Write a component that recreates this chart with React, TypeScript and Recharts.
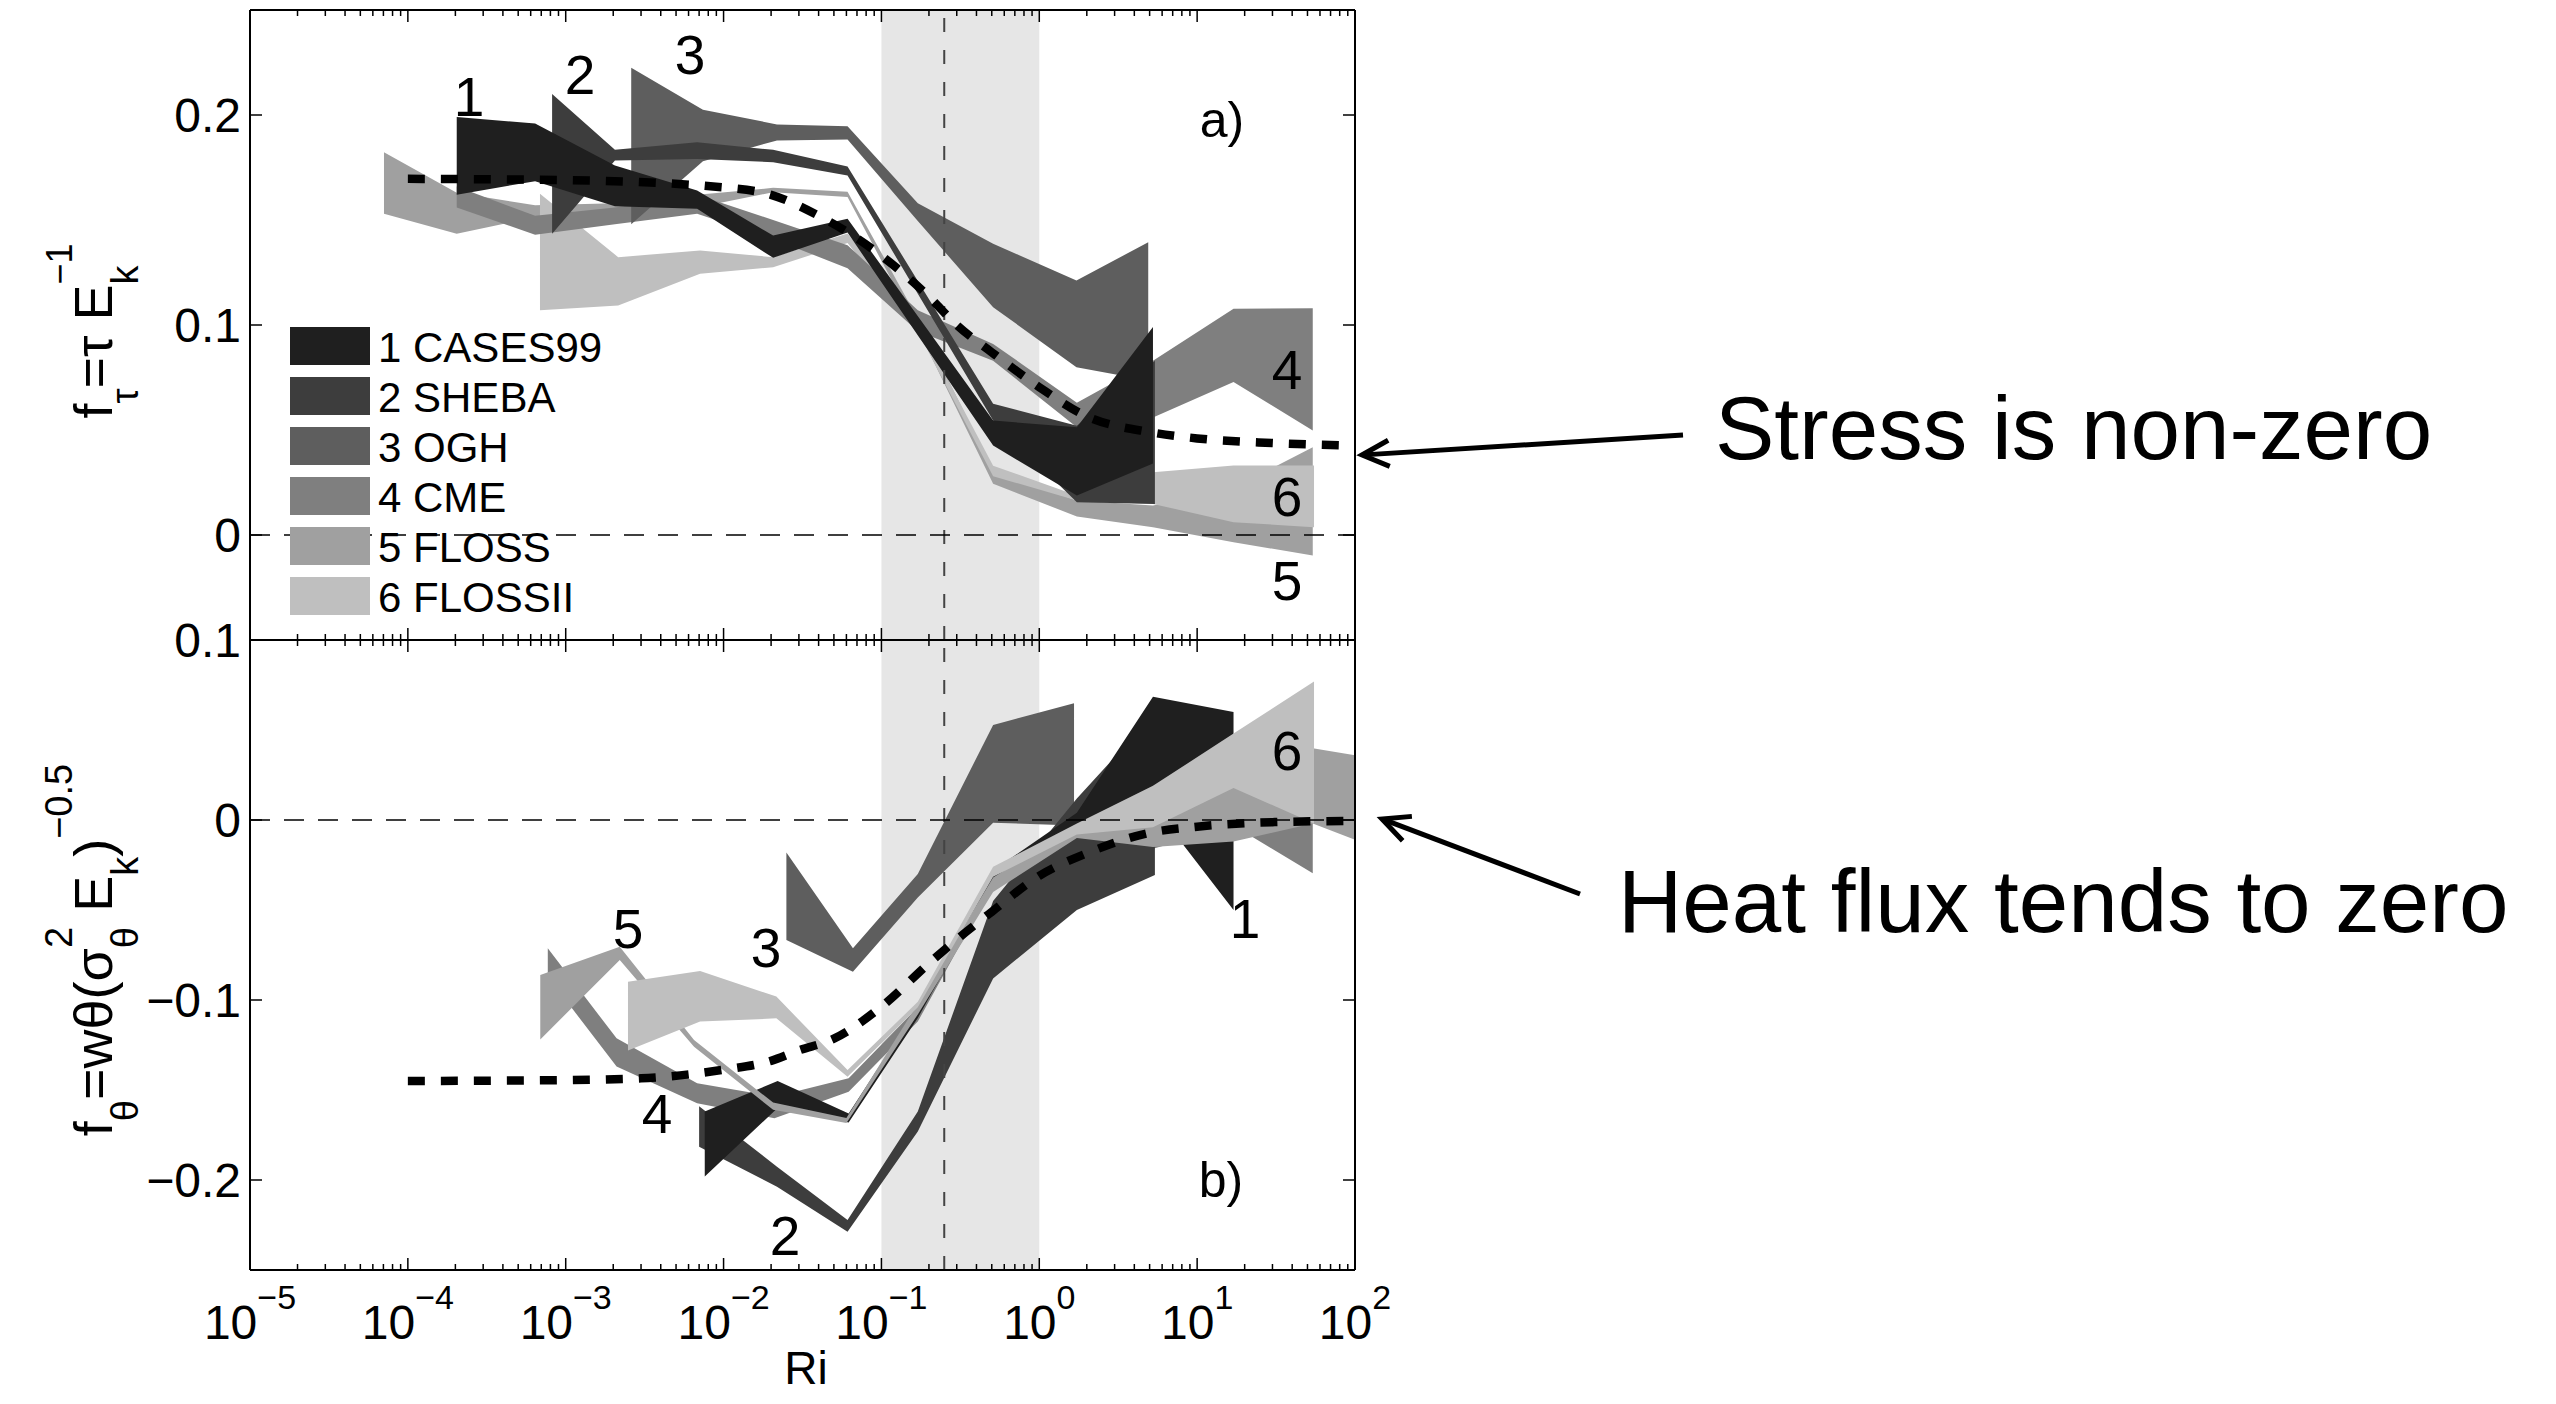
import React from 'react';
import { ComposedChart, Area, Line, XAxis, YAxis } from 'recharts';

const FONT = '"Liberation Sans", Arial, Helvetica, sans-serif';
const W = 2556;
const H = 1404;

// ---------- axes ----------
const X_DOMAIN = [1e-5, 100];
const X_MAJOR_EXP = [-5, -4, -3, -2, -1, 0, 1, 2];
const X_MINOR_MULT = [2, 3, 4, 5, 6, 7, 8, 9];
const STRESS_Y_DOMAIN = [-0.05, 0.25];
const STRESS_Y_TICKS = [0, 0.1, 0.2];
const HEAT_Y_DOMAIN = [-0.25, 0.1];
const HEAT_Y_TICKS = [-0.2, -0.1, 0, 0.1];
const SHADE_RI = [0.1, 1];
const RI_CRIT = 0.25;

// ---------- datasets ----------
const SERIES_NUM = [1, 2, 3, 4, 5, 6];
const SERIES_NAME = ['CASES99', 'SHEBA', 'OGH', 'CME', 'FLOSS', 'FLOSSII'];
const SERIES_COLOR = ['#1f1f1f', '#3d3d3d', '#5e5e5e', '#7f7f7f', '#a0a0a0', '#bfbfbf'];

// panel a) stress  [Ri, low, high]
const S_CASES99 = [
  [2.04e-4, 0.162, 0.199], [6.4e-4, 0.1685, 0.196], [2.05e-3, 0.1566, 0.176], [6.8e-3, 0.1553, 0.164],
  [2.06e-2, 0.132, 0.1426], [6.1e-2, 0.144, 0.1506], [0.51, 0.0426, 0.0545], [1.73, 0.0188, 0.0513],
  [5.25, 0.034, 0.099],
];
const S_SHEBA = [
  [8.2e-4, 0.1434, 0.21], [2.05e-3, 0.1783, 0.1834], [6.8e-3, 0.1791, 0.187], [2.06e-2, 0.1775, 0.1834],
  [6.1e-2, 0.1712, 0.1755], [0.51, 0.0545, 0.0625], [1.73, 0.0156, 0.052], [5.4, 0.0148, 0.083],
];
const S_OGH = [
  [2.6e-3, 0.148, 0.2225], [7.4e-3, 0.178, 0.2025], [2.18e-2, 0.1879, 0.1955], [6.1e-2, 0.1883, 0.1947],
  [0.17, 0.1495, 0.158], [0.51, 0.1085, 0.1387], [1.72, 0.0799, 0.1212], [4.9, 0.0736, 0.1394],
];
const S_CME = [
  [2.04e-4, 0.156, 0.166], [6.4e-4, 0.143, 0.152], [2.05e-3, 0.148, 0.156], [6.8e-3, 0.153, 0.162],
  [2.06e-2, 0.141, 0.15], [6.1e-2, 0.127, 0.138], [0.17, 0.097, 0.107], [0.51, 0.083, 0.091],
  [1.73, 0.0513, 0.063], [5.25, 0.056, 0.083], [17, 0.0728, 0.1077], [54, 0.0498, 0.108],
];
const S_FLOSS = [
  [7.06e-5, 0.153, 0.1823], [2.04e-4, 0.1434, 0.163], [6.4e-4, 0.1513, 0.157], [2.05e-3, 0.152, 0.158],
  [6.8e-3, 0.156, 0.162], [2.06e-2, 0.1632, 0.1653], [6.1e-2, 0.161, 0.1635], [0.17, 0.098, 0.103],
  [0.51, 0.0244, 0.0307], [1.73, 0.0088, 0.0164], [5.25, 0.0037, 0.014], [17, -0.0034, 0.0223],
  [54, -0.0098, 0.0418],
];
const S_FLOSSII = [
  [6.87e-4, 0.107, 0.1625], [2.15e-3, 0.1093, 0.1323], [7.1e-3, 0.1244, 0.1355], [2.06e-2, 0.1275, 0.1323],
  [6.1e-2, 0.139, 0.1436], [0.17, 0.097, 0.101], [0.51, 0.028, 0.033], [1.73, 0.0164, 0.0188],
  [5.25, 0.0148, 0.0299], [17, 0.0061, 0.0331], [55, 0.0037, 0.0331],
];

// panel b) heat flux  [Ri, low, high]
const H_CASES99 = [
  [7.6e-3, -0.198, -0.162], [2.2e-2, -0.16, -0.145], [6.2e-2, -0.168, -0.163], [0.17, -0.11, -0.104],
  [0.51, -0.035, -0.028], [1.73, -0.004, 0.004], [5.25, 0.008, 0.0685], [17, -0.05, 0.06],
];
const H_SHEBA = [
  [7.0e-3, -0.1815, -0.159], [2.18e-2, -0.2037, -0.1926], [6.1e-2, -0.2287, -0.2222], [0.17, -0.173, -0.162],
  [0.51, -0.088, -0.045], [1.73, -0.05, 0.012], [5.4, -0.0306, 0.0593],
];
const H_OGH = [
  [2.5e-2, -0.0667, -0.018], [6.6e-2, -0.0843, -0.0713], [0.17, -0.043, -0.03], [0.51, -0.0015, 0.0528],
  [1.66, -0.003, 0.0648],
];
const H_CME = [
  [7.7e-4, -0.087, -0.0713], [2.1e-3, -0.137, -0.1213], [6.8e-3, -0.1574, -0.1463], [2.1e-2, -0.1657, -0.1537],
  [6.2e-2, -0.151, -0.1435], [0.17, -0.112, -0.104], [0.51, -0.036, -0.028], [1.73, -0.012, -0.002],
  [5.25, -0.016, -0.003], [17, -0.003, 0.03], [54, -0.0296, 0.01],
];
const H_FLOSS = [
  [6.9e-4, -0.1219, -0.0861], [2.2e-3, -0.0778, -0.0704], [6.5e-3, -0.126, -0.1222], [2.06e-2, -0.161, -0.157],
  [6.0e-2, -0.1684, -0.1656], [0.17, -0.108, -0.102], [0.51, -0.04, -0.032], [1.73, -0.01, -0.003],
  [5.25, -0.015, 0.005], [17, -0.012, 0.02], [54, -0.0019, 0.0398], [100, -0.011, 0.036],
];
const H_FLOSSII = [
  [2.48e-3, -0.1281, -0.0898], [7.1e-3, -0.112, -0.0839], [2.16e-2, -0.1102, -0.0981], [6.1e-2, -0.1426, -0.1389],
  [0.17, -0.104, -0.101], [0.51, -0.0315, -0.026], [1.73, -0.008, -0.002], [5.25, -0.004, 0.019],
  [17, 0.0178, 0.048], [55, -0.0019, 0.0769],
];

// model curves [Ri, value]
const MODEL_STRESS = [
  [1e-4, 0.1696], [1e-3, 0.169], [1e-2, 0.1655], [2e-2, 0.162], [4e-2, 0.152], [6e-2, 0.1445], [0.1, 0.133],
  [0.2, 0.1135], [0.3, 0.1], [0.5, 0.087], [1, 0.0704], [2, 0.0565], [5, 0.049], [10, 0.046], [30, 0.0438],
  [100, 0.0425],
];
const MODEL_HEAT = [
  [1e-4, -0.145], [1e-3, -0.1445], [3e-3, -0.1435], [1e-2, -0.1387], [2e-2, -0.1338], [3e-2, -0.128],
  [5e-2, -0.1215], [0.1, -0.1037], [0.2, -0.0796], [0.3, -0.0664], [0.5, -0.051], [1, -0.031], [2, -0.0185],
  [5, -0.0071], [10, -0.0037], [30, -0.0012], [100, -0.0005],
];

const STRESS_BANDS = [S_CASES99, S_SHEBA, S_OGH, S_CME, S_FLOSS, S_FLOSSII];
const HEAT_BANDS = [H_CASES99, H_SHEBA, H_OGH, H_CME, H_FLOSS, H_FLOSSII];
const STRESS_ORDER = [5, 6, 4, 3, 2, 1];
const HEAT_ORDER = [4, 3, 2, 1, 5, 6];

// label texts
const STRESS_LABELS = [
  { t: '1', x: 469, y: 96 }, { t: '2', x: 580, y: 74 }, { t: '3', x: 690, y: 54 },
  { t: '4', x: 1287, y: 369 }, { t: '6', x: 1287, y: 496 }, { t: '5', x: 1287, y: 580 },
];
const HEAT_LABELS = [
  { t: '5', x: 628, y: 928 }, { t: '3', x: 766, y: 947 }, { t: '4', x: 657, y: 1113 },
  { t: '2', x: 785, y: 1235 }, { t: '1', x: 1245, y: 918 }, { t: '6', x: 1287, y: 750 },
];

// ---------- helpers ----------
const X_TICKS: number[] = [];
X_MAJOR_EXP.forEach((e) => {
  X_TICKS.push(Math.pow(10, e));
  if (e < 2) X_MINOR_MULT.forEach((m) => X_TICKS.push(m * Math.pow(10, e)));
});
const majorExp = (v: number) => {
  const l = Math.log10(v);
  const r = Math.round(l);
  return Math.abs(l - r) < 1e-6 ? r : null;
};
const toBand = (arr: number[][]) => arr.map(([ri, lo, hi]) => ({ ri, band: [lo, hi] }));
const toLine = (arr: number[][]) => arr.map(([ri, v]) => ({ ri, v }));
const fmtY = (v: number) => (v === 0 ? '0' : (v < 0 ? '\u2212' : '') + String(Math.abs(v)));

function XTick(props: any) {
  const { x, y, payload, dir, label } = props;
  const e = majorExp(payload.value);
  const len = e !== null ? 12 : 6;
  return (
    <g>
      <line x1={x} x2={x} y1={y} y2={y + dir * len} stroke="#000" strokeWidth={1.5} />
      {label && e !== null ? (
        <text x={x} y={y + 69} textAnchor="middle" fontFamily={FONT} fontSize={48} fill="#000">
          <tspan>10</tspan>
          <tspan dy={-30} fontSize={34}>{e < 0 ? '\u2212' + String(-e) : String(e)}</tspan>
        </text>
      ) : null}
    </g>
  );
}

function YTick(props: any) {
  const { x, y, payload, dir, label } = props;
  return (
    <g>
      <line x1={x} x2={x + dir * 12} y1={y} y2={y} stroke="#000" strokeWidth={1.5} />
      {label ? (
        <text x={x - 9} y={y + 17} textAnchor="end" fontFamily={FONT} fontSize={48} fill="#000">
          {fmtY(payload.value)}
        </text>
      ) : null}
    </g>
  );
}

function Panel(props: any) {
  const { height, margin, yDomain, yTicks, bands, order, model, xLabels, bottomAxisH } = props;
  const shade = SHADE_RI.map((ri) => ({ ri, band: [yDomain[0], yDomain[1]] }));
  const vline = [{ ri: RI_CRIT, v: yDomain[0] }, { ri: RI_CRIT, v: yDomain[1] }];
  const zero = [{ ri: X_DOMAIN[0], v: 0 }, { ri: X_DOMAIN[1], v: 0 }];
  const axisLine = { stroke: '#000', strokeWidth: 2 };
  return (
    <ComposedChart width={W} height={height} margin={margin}>
      <XAxis xAxisId="b" dataKey="ri" type="number" scale="log" domain={X_DOMAIN} allowDataOverflow
        ticks={X_TICKS} interval={0} tickLine={false} tickSize={0} tickMargin={0} axisLine={axisLine}
        orientation="bottom" height={bottomAxisH}
        tick={(p: any) => <XTick {...p} dir={-1} label={xLabels} />} />
      <XAxis xAxisId="t" dataKey="ri" type="number" scale="log" domain={X_DOMAIN} allowDataOverflow
        ticks={X_TICKS} interval={0} tickLine={false} tickSize={0} tickMargin={0} axisLine={axisLine}
        orientation="top" height={5}
        tick={(p: any) => <XTick {...p} dir={1} label={false} />} />
      <YAxis yAxisId="l" type="number" domain={yDomain} allowDataOverflow ticks={yTicks} interval={0}
        tickLine={false} tickSize={0} tickMargin={0} axisLine={axisLine} width={60}
        tick={(p: any) => <YTick {...p} dir={1} label />} />
      <YAxis yAxisId="r" orientation="right" type="number" domain={yDomain} allowDataOverflow ticks={yTicks}
        interval={0} tickLine={false} tickSize={0} tickMargin={0} axisLine={axisLine} width={60}
        tick={(p: any) => <YTick {...p} dir={-1} label={false} />} />
      <Area xAxisId="b" yAxisId="l" data={shade} dataKey="band" type="linear" stroke="none"
        fill="#e6e6e6" fillOpacity={1} isAnimationActive={false} dot={false} activeDot={false} />
      <Line xAxisId="b" yAxisId="l" data={vline} dataKey="v" type="linear" stroke="#444" strokeWidth={2}
        strokeDasharray="14 18" dot={false} activeDot={false} isAnimationActive={false} />
      {order.map((n: number) => (
        <Area key={'band' + n} xAxisId="b" yAxisId="l" data={toBand(bands[n - 1])} dataKey="band"
          type="linear" stroke="none" fill={SERIES_COLOR[n - 1]} fillOpacity={1}
          isAnimationActive={false} dot={false} activeDot={false} name={SERIES_NAME[n - 1]} />
      ))}
      <Line xAxisId="b" yAxisId="l" data={zero} dataKey="v" type="linear" stroke="#000" strokeWidth={1.5}
        strokeDasharray="20 14" dot={false} activeDot={false} isAnimationActive={false} />
      <Line xAxisId="b" yAxisId="l" data={toLine(model)} dataKey="v" type="monotone" stroke="#000"
        strokeWidth={8.5} strokeDasharray="17 16" dot={false} activeDot={false} isAnimationActive={false} />
    </ComposedChart>
  );
}

function Arrow({ x1, y1, x2, y2 }: any) {
  const dx = x1 - x2;
  const dy = y1 - y2;
  const L = Math.hypot(dx, dy);
  const ux = dx / L;
  const uy = dy / L;
  const len = 30;
  const a = 0.45;
  const w = (s: number) => [
    x2 + len * (ux * Math.cos(s * a) - uy * Math.sin(s * a)),
    y2 + len * (ux * Math.sin(s * a) + uy * Math.cos(s * a)),
  ];
  const [ax, ay] = w(1);
  const [bx, by] = w(-1);
  return (
    <g stroke="#000" strokeWidth={5} fill="none">
      <line x1={x1} y1={y1} x2={x2 + ux * 2} y2={y2 + uy * 2} />
      <polyline points={`${ax},${ay} ${x2},${y2} ${bx},${by}`} />
    </g>
  );
}

export default function App() {
  const txt = { fontFamily: FONT, fill: '#000' } as any;
  return (
    <div style={{ position: 'absolute', left: 0, top: 0, width: W, height: H, background: '#fff', overflow: 'hidden' }}>
      <div style={{ position: 'absolute', left: 0, top: 0 }}>
        <Panel height={660} margin={{ top: 5, right: 1141, bottom: 10, left: 190 }} yDomain={STRESS_Y_DOMAIN}
          yTicks={STRESS_Y_TICKS} bands={STRESS_BANDS} order={STRESS_ORDER} model={MODEL_STRESS}
          xLabels={false} bottomAxisH={10} />
      </div>
      <div style={{ position: 'absolute', left: 0, top: 0 }}>
        <Panel height={H} margin={{ top: 635, right: 1141, bottom: 74, left: 190 }} yDomain={HEAT_Y_DOMAIN}
          yTicks={HEAT_Y_TICKS} bands={HEAT_BANDS} order={HEAT_ORDER} model={MODEL_HEAT}
          xLabels bottomAxisH={60} />
      </div>
      <svg style={{ position: 'absolute', left: 0, top: 0 }} width={W} height={H}>
        {/* y axis titles */}
        <g transform="translate(112,331) rotate(-90)">
          <text x={0} y={0} textAnchor="middle" fontSize={54} {...txt}>
            <tspan>f</tspan>
            <tspan fontSize={38} dy={26}>τ</tspan>
            <tspan dy={-26}>=τ E</tspan>
            <tspan fontSize={38} dy={26}>k</tspan>
            <tspan fontSize={36} dx={-19} dy={-66}>−1</tspan>
          </text>
        </g>
        <g transform="translate(112,950) rotate(-90)">
          <text x={0} y={0} textAnchor="middle" fontSize={54} {...txt}>
            <tspan>f</tspan>
            <tspan fontSize={38} dy={26}>θ</tspan>
            <tspan dy={-26}>=wθ(σ</tspan>
            <tspan fontSize={38} dy={26}>θ</tspan>
            <tspan fontSize={38} dx={-21} dy={-66}>2</tspan>
            <tspan dy={40}> E</tspan>
            <tspan fontSize={38} dy={26}>k</tspan>
            <tspan dy={-26}>)</tspan>
            <tspan fontSize={38} dy={-40}>−0.5</tspan>
          </text>
        </g>
        {/* x axis title */}
        <text x={806} y={1384} textAnchor="middle" fontSize={46} {...txt}>Ri</text>
        {/* panel tags */}
        <text x={1222} y={137} textAnchor="middle" fontSize={50} {...txt}>a)</text>
        <text x={1221} y={1197} textAnchor="middle" fontSize={50} {...txt}>b)</text>
        {STRESS_LABELS.map((l, i) => (
          <text key={'sl' + i} x={l.x} y={l.y + 20} textAnchor="middle" fontSize={55} {...txt}>{l.t}</text>
        ))}
        {HEAT_LABELS.map((l, i) => (
          <text key={'hl' + i} x={l.x} y={l.y + 20} textAnchor="middle" fontSize={55} {...txt}>{l.t}</text>
        ))}
        {/* legend */}
        {SERIES_NUM.map((n, i) => (
          <g key={'lg' + n}>
            <rect x={290} y={327 + 50 * i} width={80} height={38} fill={SERIES_COLOR[i]} />
            <text x={378} y={362 + 50 * i} fontSize={42} {...txt}>{`${n} ${SERIES_NAME[i]}`}</text>
          </g>
        ))}
        {/* annotations */}
        <Arrow x1={1683} y1={435} x2={1362} y2={455} />
        <text x={1715} y={459} fontSize={89} {...txt}>Stress is non-zero</text>
        <Arrow x1={1580} y1={894} x2={1382} y2={819} />
        <text x={1618} y={932} fontSize={89} {...txt}>Heat flux tends to zero</text>
      </svg>
    </div>
  );
}
